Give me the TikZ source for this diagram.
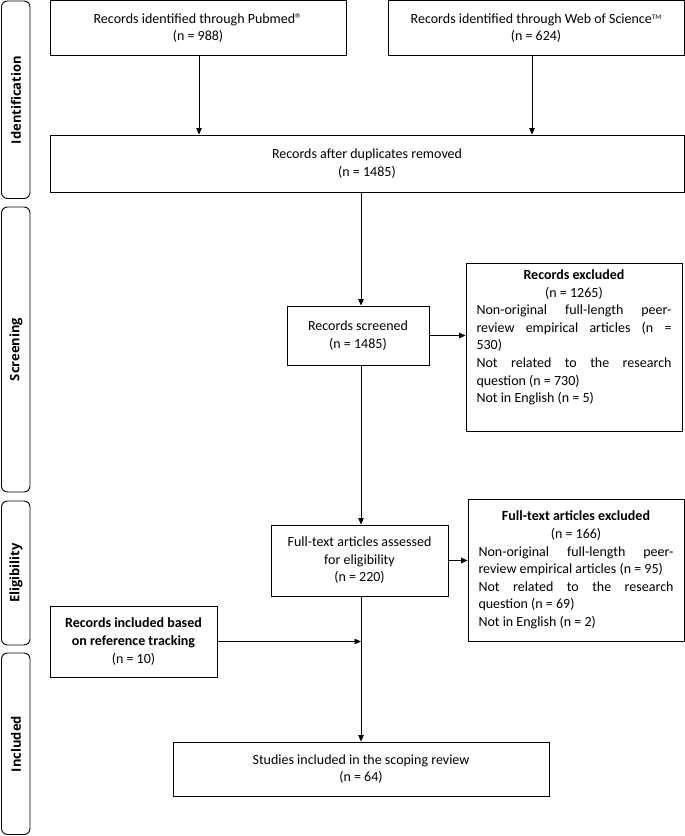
\documentclass[tikz,border=0pt]{standalone}
\usepackage{fontspec}
\setmainfont{Carlito}
\newfontfamily\sidefont{Open Sans}
\usetikzlibrary{arrows.meta,calc}
\newcommand{\jl}[1]{\makebox[195pt][s]{#1}}
\newcommand{\cl}[1]{\makebox[195pt][c]{#1}}
\begin{document}
\begin{tikzpicture}[x=1pt,y=-1pt,
  every node/.style={font=\fontsize{14}{17.6}\selectfont},
  boxnode/.style={draw=black,line width=0.9pt,inner sep=0pt,align=center,anchor=center},
  sidebox/.style={draw=black,line width=0.9pt,rounded corners=6pt},
  sidelabel/.style={rotate=90,font=\sidefont\bfseries\fontsize{13}{14}\selectfont},
  arr/.style={line width=0.9pt,-{Triangle[length=6.5pt,width=5.5pt]}},
  ln/.style={line width=0.9pt}]
\useasboundingbox (0,0) rectangle (685,836);
% side labels
\draw[sidebox] (1.5,1) rectangle (30,198.5);
\draw[sidebox] (1.5,207) rectangle (30,492);
\draw[sidebox] (1.5,501) rectangle (30,645);
\draw[sidebox] (1.5,653) rectangle (30,834.5);
\node[sidelabel] (lid) at (16,100) {Identification};
\node[sidelabel] (lsc) at (16,349.5) {Screening};
\node[sidelabel] (lel) at (16,573) {Eligibility};
\node[sidelabel] (lin) at (16,744) {Included};
% boxes
\node[boxnode,minimum width=296pt,minimum height=55pt] (pub) at (198,28.2)
  {Records identified through Pubmed®\\(n = 988)};
\node[boxnode,minimum width=296pt,minimum height=55pt] (wos) at (536,28.2)
  {Records identified through Web of Science\raisebox{3.5pt}{\fontsize{7}{7}\selectfont TM}\\(n = 624)};
\node[boxnode,minimum width=634pt,minimum height=57pt] (dup) at (367,163.5)
  {Records after duplicates removed\\(n = 1485)};
\node[boxnode,minimum width=142pt,minimum height=59pt] (scr) at (358,335.5)
  {Records screened\\(n = 1485)};
\node[boxnode,minimum width=216pt,minimum height=168pt,align=left] (rex) at (574,347)
  {\cl{\textbf{Records excluded}}\\\cl{(n = 1265)}\\
   \jl{Non-original full-length peer-}\\\jl{review empirical articles (n =}\\\mbox{530)}\\
   \jl{Not related to the research}\\\mbox{question (n = 730)}\\\mbox{Not in English (n = 5)}\\[4pt]};
\node[boxnode,minimum width=177pt,minimum height=71pt] (ft) at (359.5,560.5)
  {Full-text articles assessed\\for eligibility\\(n = 220)};
\node[boxnode,minimum width=216pt,minimum height=142pt,align=left] (ftex) at (576,570)
  {\cl{\textbf{Full-text articles excluded}}\\\cl{(n = 166)}\\
   \jl{Non-original full-length peer-}\\\mbox{review empirical articles (n = 95)}\\
   \jl{Not related to the research}\\\mbox{question (n = 69)}\\\mbox{Not in English (n = 2)}};
\node[boxnode,minimum width=167pt,minimum height=71pt] (ref) at (133.5,641.5)
  {\textbf{Records included based}\\\textbf{on reference tracking}\\(n = 10)};
\node[boxnode,minimum width=376pt,minimum height=54pt] (stu) at (361,769)
  {Studies included in the scoping review\\(n = 64)};
% spine
\coordinate (spine) at (361,0);
% connectors
\draw[arr] ($(pub.south)+(1,0)$) -- ($(pub.south |- dup.north)+(1,0)$);
\draw[arr] ($(wos.south)+(-4,0)$) -- ($(wos.south |- dup.north)+(-4,0)$);
\draw[arr] (dup.south -| spine) -- (scr.north -| spine);
\draw[arr] (scr.east) -- (scr.east -| rex.west);
\draw[arr] (scr.south -| spine) -- (ft.north -| spine);
\draw[arr] (ft.east) -- (ft.east -| ftex.west);
\draw[arr] (ref.east) -- (ref.east -| spine);
\draw[arr] (ft.south -| spine) -- (stu.north -| spine);
\end{tikzpicture}
\end{document}
